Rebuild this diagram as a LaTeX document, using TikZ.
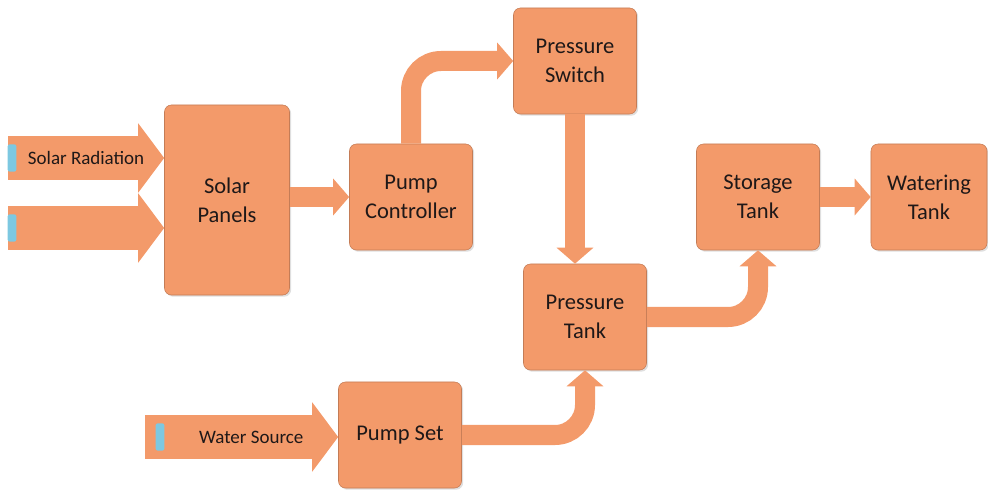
\documentclass[tikz,border=0pt]{standalone}
\usepackage{fontspec}
\setmainfont{Carlito}
\usetikzlibrary{positioning,arrows.meta,shadows}
\definecolor{boxorange}{RGB}{243,154,106}
\definecolor{boxedge}{RGB}{196,124,86}
\definecolor{markblue}{RGB}{125,200,225}
\definecolor{txt}{RGB}{30,24,24}

\begin{document}
\begin{tikzpicture}[x=0.025cm,y=-0.025cm,
  every node/.style={font=\fontsize{16}{20.5}\selectfont,text=txt},
  box/.style={draw=boxedge,fill=boxorange,rounded corners=5pt,align=center,
    minimum width=3.075cm,minimum height=2.65cm,inner sep=2pt,
    drop shadow={opacity=0.25,shadow xshift=1.2pt,shadow yshift=-1.2pt}},
  flow/.style={draw=boxorange,line width=0.5cm,rounded corners=0.75cm,
    -{Triangle[width=0.9cm,length=0.4cm]}},
  bigflow/.style={draw=boxorange,line width=1.1cm,
    -{Triangle[width=1.7cm,length=0.65cm]}},
  inlabel/.style={font=\fontsize{13.5}{16}\selectfont},
  marker/.style={fill=markblue,rounded corners=1.5pt,minimum width=0.22cm,
    minimum height=0.68cm,inner sep=0pt}
]
  \useasboundingbox (0,0) rectangle (988,491);

  % blocks
  \node[box,minimum width=3.125cm,minimum height=4.75cm] (panels) at (227,200) {Solar\\Panels};
  \node[box] (ctrl) at (411,197) {Pump\\Controller};
  \node[box] (switch) at (575,61) {Pressure\\Switch};
  \node[box] (ptank) at (585,317) {Pressure\\Tank};
  \node[box] (stank) at (758,197) {Storage\\Tank};
  \node[box,minimum width=2.9cm] (wtank) at (929,197) {Watering\\Tank};
  \node[box] (pset) at (400,435) {Pump Set};

  % inputs
  \coordinate (sun1) at (8,158);
  \coordinate (sun2) at (8,228);
  \coordinate (water) at (145,437);
  \draw[bigflow] (sun1) -- (sun1 -| panels.west) node[midway,inlabel] (sunlabel) {Solar Radiation};
  \draw[bigflow] (sun2) -- (sun2 -| panels.west);
  \draw[bigflow] (water) -- (water -| pset.west) node[pos=0.55,inlabel] (waterlabel) {Water Source};
  \node[marker] (mark1) at (12,158) {};
  \node[marker] (mark2) at (12,228) {};
  \node[marker] (mark3) at (160,437) {};

  % flows between blocks
  \draw[flow] (panels.east |- ctrl.west) -- (ctrl.west);
  \draw[flow] (ctrl.north) |- (switch.west);
  \draw[flow] (switch.south) -- (switch.south |- ptank.north);
  \draw[flow] (ptank.east) -| (stank.south);
  \draw[flow] (pset.east) -| (ptank.south);
  \draw[flow] (stank.east) -- (wtank.west);
\end{tikzpicture}
\end{document}
